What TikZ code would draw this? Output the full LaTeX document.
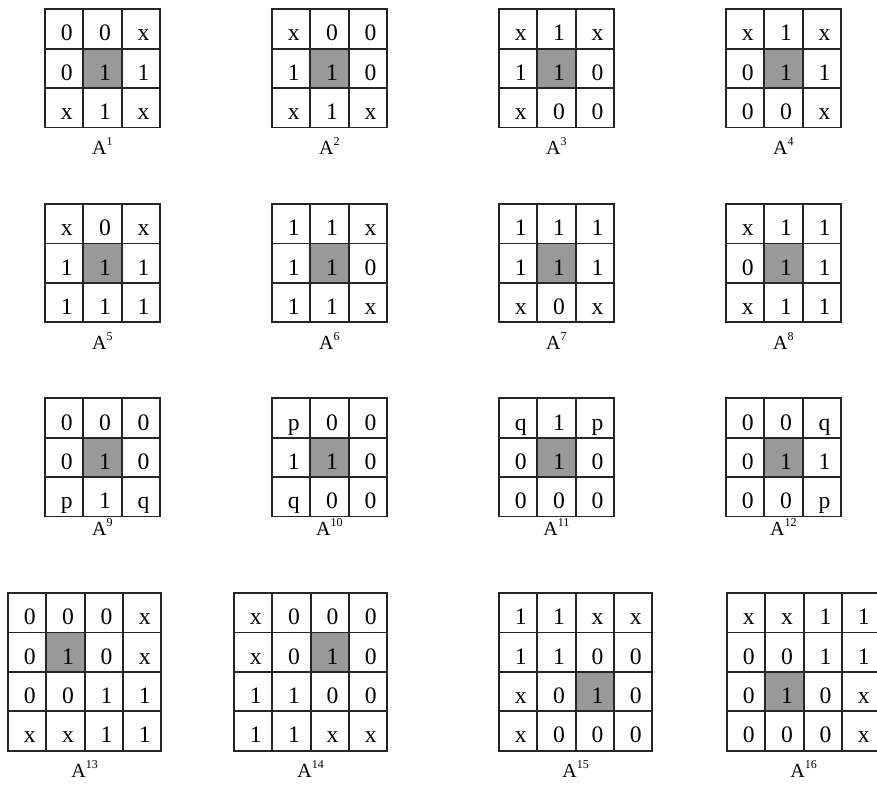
\documentclass[tikz,border=0pt]{standalone}
\usepackage{fontspec}
\setmainfont{Liberation Serif}
\usetikzlibrary{positioning}

% #1 number, #2 left, #3 top, #4 size, #5 shaded cell, #6 values, #7 label gap
\newcommand{\maskgrid}[7]{%
  \foreach \v [count=\k from 0] in {#6} {
    \pgfmathtruncatemacro{\rw}{\k/#4}
    \pgfmathtruncatemacro{\cl}{mod(\k,#4)}
    \ifnum\k=#5 \def\cellcol{black!40}\else\def\cellcol{none}\fi
    \node[cell, fill=\cellcol] (A#1-\rw-\cl) at ({#2+(\cl+0.5)*38.3}, {#3+(\rw+0.5)*39.4}) {\v};
  }
  \node[lbl] (A#1-lbl) at ({#2+#4*19.15}, {#3+#4*39.4+#7}) {A\raisebox{6.5pt}{\fontsize{9}{9}\selectfont #1}};
}

\begin{document}
\begin{tikzpicture}[
  x=0.75pt, y=-0.75pt,
  cell/.style={draw=black!85, line width=1.35pt, minimum width=28.7pt, minimum height=29.55pt,
    inner sep=0pt, text height=18pt, text depth=0pt, font=\fontsize{17.7}{20}\selectfont,
    execute at begin node=\hspace*{4pt}},
  lbl/.style={anchor=base, inner sep=0pt, font=\fontsize{15}{17}\selectfont}
]
  \useasboundingbox (0,0) rectangle (877,788);

  % 3x3 masks
  \maskgrid{1}{45}{9.3}{3}{4}{0,0,x,0,1,1,x,1,x}{27}
  \maskgrid{2}{272}{9.3}{3}{4}{x,0,0,1,1,0,x,1,x}{27}
  \maskgrid{3}{499}{9.3}{3}{4}{x,1,x,1,1,0,x,0,0}{27}
  \maskgrid{4}{726}{9.3}{3}{4}{x,1,x,0,1,1,0,0,x}{27}

  \maskgrid{5}{45}{204}{3}{4}{x,0,x,1,1,1,1,1,1}{27}
  \maskgrid{6}{272}{204}{3}{4}{1,1,x,1,1,0,1,1,x}{27}
  \maskgrid{7}{499}{204}{3}{4}{1,1,1,1,1,1,x,0,x}{27}
  \maskgrid{8}{726}{204}{3}{4}{x,1,1,0,1,1,x,1,1}{27}

  \maskgrid{9}{45}{398.3}{3}{4}{0,0,0,0,1,0,p,1,q}{19}
  \maskgrid{10}{272}{398.3}{3}{4}{p,0,0,1,1,0,q,0,0}{19}
  \maskgrid{11}{499}{398.3}{3}{4}{q,1,p,0,1,0,0,0,0}{19}
  \maskgrid{12}{726}{398.3}{3}{4}{0,0,q,0,1,1,0,0,p}{19}

  % 4x4 masks
  \maskgrid{13}{8}{593}{4}{5}{0,0,0,x,0,1,0,x,0,0,1,1,x,x,1,1}{27}
  \maskgrid{14}{234}{593}{4}{6}{x,0,0,0,x,0,1,0,1,1,0,0,1,1,x,x}{27}
  \maskgrid{15}{499}{593}{4}{10}{1,1,x,x,1,1,0,0,x,0,1,0,x,0,0,0}{27}
  \maskgrid{16}{727}{593}{4}{9}{x,x,1,1,0,0,1,1,0,1,0,x,0,0,0,x}{27}
\end{tikzpicture}
\end{document}
